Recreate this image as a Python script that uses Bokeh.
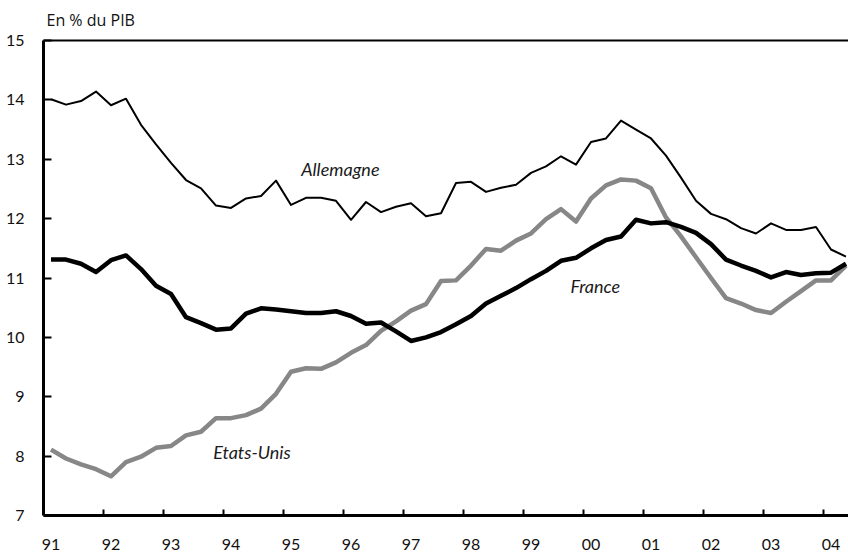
from bokeh.plotting import figure
from bokeh.models import Range1d, FixedTicker, LinearAxis, Label
from bokeh.embed import file_html
from bokeh.resources import INLINE

# Quarterly data, 1991 T1 .. 2004 T2 (index 0..53)
quarters = list(range(54))
year_labels = ["91", "92", "93", "94", "95", "96", "97", "98", "99", "00", "01", "02", "03", "04"]
y_ticks = [7, 8, 9, 10, 11, 12, 13, 14, 15]

allemagne = [14.01, 13.92, 13.98, 14.14, 13.91, 14.02, 13.58, 13.25, 12.94, 12.65,
             12.51, 12.22, 12.18, 12.34, 12.38, 12.64, 12.23, 12.35, 12.35, 12.30,
             11.98, 12.28, 12.11, 12.20, 12.26, 12.04, 12.09, 12.60, 12.62, 12.45,
             12.52, 12.57, 12.77, 12.88, 13.05, 12.91, 13.29, 13.35, 13.65, 13.50,
             13.35, 13.06, 12.69, 12.30, 12.08, 11.99, 11.84, 11.75, 11.92, 11.81,
             11.81, 11.86, 11.48, 11.36]
france = [11.31, 11.31, 11.24, 11.10, 11.30, 11.38, 11.15, 10.87, 10.73, 10.34,
          10.24, 10.13, 10.15, 10.40, 10.49, 10.47, 10.44, 10.41, 10.41, 10.44,
          10.36, 10.23, 10.25, 10.10, 9.94, 10.00, 10.09, 10.22, 10.36, 10.57,
          10.70, 10.83, 10.98, 11.12, 11.29, 11.34, 11.50, 11.64, 11.70, 11.98,
          11.92, 11.94, 11.86, 11.76, 11.57, 11.31, 11.21, 11.12, 11.01, 11.10,
          11.05, 11.08, 11.09, 11.24]
etats_unis = [8.11, 7.96, 7.86, 7.78, 7.66, 7.90, 7.99, 8.14, 8.17, 8.35,
              8.41, 8.64, 8.64, 8.69, 8.80, 9.05, 9.42, 9.48, 9.47, 9.58,
              9.74, 9.87, 10.11, 10.27, 10.45, 10.56, 10.95, 10.96, 11.21, 11.49,
              11.46, 11.63, 11.75, 11.99, 12.16, 11.95, 12.34, 12.56, 12.66, 12.64,
              12.51, 12.02, 11.70, 11.35, 11.00, 10.66, 10.57, 10.46, 10.41, 10.60,
              10.78, 10.96, 10.96, 11.21]

label_pos = [4 * k for k in range(len(year_labels))]
boundaries = [4 * k - 0.5 for k in range(1, len(year_labels))]

TITLE_FONT = "Open Sans"
TICK_FONT = "Lato"
SERIES_FONT = "Lato"

p = figure(width=848, height=558, output_backend="svg", toolbar_location=None,
           x_range=Range1d(-0.5, -0.5 + 805 / 15), y_range=Range1d(7, 15),
           min_border_left=43, min_border_right=0, min_border_top=40, min_border_bottom=43)
p.outline_line_color = None
p.grid.visible = False
p.background_fill_color = "white"

p.title.text = "En % du PIB"
p.title.align = "left"
p.title.vertical_align = "top"
p.title.offset = 3
p.title.standoff = 15
p.title.text_font = TITLE_FONT
p.title.text_font_size = "16px"
p.title.text_font_style = "normal"
p.title.text_color = "#111111"

# x axis
xa = p.xaxis[0]
xa.ticker = FixedTicker(ticks=label_pos, minor_ticks=boundaries)
xa.major_label_overrides = {pos: lab for pos, lab in zip(label_pos, year_labels)}
xa.major_tick_in = 0
xa.major_tick_out = 0
xa.minor_tick_in = 6
xa.minor_tick_out = 0
xa.minor_tick_line_width = 2
xa.minor_tick_line_color = "black"
xa.axis_line_width = 3
xa.axis_line_color = "black"
xa.major_label_standoff = 23
xa.major_label_text_font = TICK_FONT
xa.major_label_text_font_size = "16px"
xa.major_label_text_color = "#111111"

# y axis
ya = p.yaxis[0]
ya.ticker = FixedTicker(ticks=y_ticks, minor_ticks=[])
ya.major_tick_in = 8
ya.major_tick_out = 0
ya.major_tick_line_width = 2
ya.minor_tick_in = 0
ya.minor_tick_out = 0
ya.axis_line_width = 3
ya.axis_line_color = "black"
ya.major_label_standoff = 19
ya.major_label_text_font = TICK_FONT
ya.major_label_text_font_size = "16px"
ya.major_label_text_color = "#111111"

# top border line
top = LinearAxis(ticker=FixedTicker(ticks=[], minor_ticks=[]), major_label_text_font_size="0px",
                 major_tick_in=0, major_tick_out=0, minor_tick_in=0, minor_tick_out=0,
                 axis_line_width=2, axis_line_color="black", major_label_standoff=0)
p.add_layout(top, "above")

# series
p.line(quarters, etats_unis, line_color="#878787", line_width=4.5, line_join="round")
p.line(quarters, france, line_color="black", line_width=4.5, line_join="round")
p.line(quarters, allemagne, line_color="black", line_width=2, line_join="round")

for txt, x, y in [("Allemagne", 16.68, 12.83), ("France", 34.63, 10.87), ("Etats-Unis", 10.81, 8.07)]:
    p.add_layout(Label(x=x, y=y, text=txt, text_font=SERIES_FONT, text_font_style="italic",
                       text_font_size="18px", text_baseline="alphabetic", text_color="#1a1a1a"))

open("out.html", "w").write(file_html(p, INLINE))
